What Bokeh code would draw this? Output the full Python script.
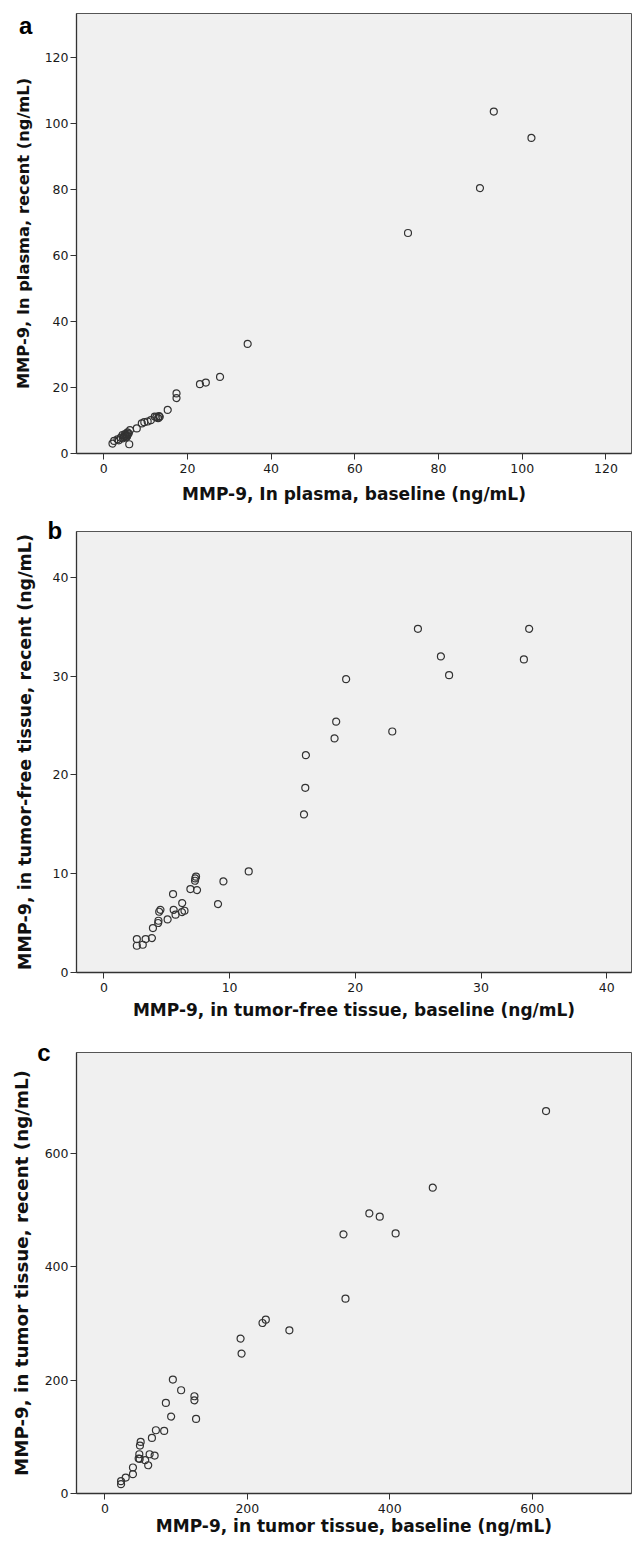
from bokeh.plotting import figure
from bokeh.layouts import column
from bokeh.models import Range1d, FixedTicker, Title
from bokeh.embed import file_html
from bokeh.resources import INLINE

# ---------------- data ----------------
# Panel a: MMP-9 in plasma (ng/mL)
a_baseline = [93.2, 102.2, 89.9, 72.7, 34.4, 27.8, 24.4, 23.0, 17.4, 17.4,
              15.3, 13.4, 13.0, 12.2, 11.3, 10.5, 9.7, 9.1, 7.9, 6.3,
              5.7, 5.1, 4.5, 4.1, 3.3, 2.5, 2.1, 6.1,
              4.8, 5.2, 5.5, 5.0, 5.4, 5.8, 4.6, 5.6, 6.0, 3.6, 12.6, 13.2]
a_recent = [103.6, 95.6, 80.4, 66.8, 33.2, 23.2, 21.5, 21.0, 18.2, 16.8,
            13.2, 11.1, 10.7, 11.2, 10.1, 9.7, 9.5, 9.1, 7.6, 7.1,
            6.4, 5.9, 5.6, 4.8, 4.3, 3.8, 3.0, 2.8,
            5.0, 5.3, 5.6, 5.4, 4.9, 5.9, 4.6, 5.2, 6.1, 4.0, 11.0, 11.3]

# Panel b: MMP-9 in tumor-free tissue (ng/mL)
b_baseline = [24.98, 33.83, 26.81, 33.41, 27.46, 19.27, 18.48, 18.35, 22.94, 16.07,
              16.02, 15.92, 11.52, 9.51, 9.08, 7.33, 7.27, 7.25, 6.88, 7.41,
              5.50, 6.23, 6.41, 6.21, 5.55, 5.70, 5.07, 4.50, 4.40, 4.34,
              4.32, 3.90, 3.82, 3.32, 2.62, 2.62, 3.09]
b_recent = [34.8, 34.8, 32.0, 31.7, 30.1, 29.7, 25.4, 23.7, 24.4, 22.0,
            18.7, 16.0, 10.23, 9.22, 6.93, 9.70, 9.52, 9.29, 8.45, 8.35,
            7.94, 7.03, 6.25, 6.12, 6.35, 5.85, 5.37, 6.35, 6.15, 5.24,
            5.01, 4.50, 3.49, 3.38, 3.38, 2.71, 2.81]

# Panel c: MMP-9 in tumor tissue (ng/mL)
c_baseline = [619.4, 460.4, 371.3, 385.9, 408.2, 335.0, 337.8, 259.0, 225.9, 221.3,
              190.5, 191.9, 95.4, 107.0, 125.7, 125.7, 85.6, 93.0, 128.0, 71.6,
              83.2, 66.0, 50.2, 49.2, 48.3, 62.8, 69.8, 47.4, 56.6, 48.8,
              60.8, 39.4, 39.4, 29.2, 22.7, 22.7]
c_recent = [675.2, 540.0, 494.6, 488.8, 459.3, 457.6, 344.1, 288.2, 307.0, 301.1,
            273.5, 247.0, 201.2, 182.3, 171.7, 164.6, 159.9, 135.9, 131.6, 111.7,
            110.5, 98.1, 91.1, 84.7, 69.3, 69.3, 67.0, 61.8, 58.8, 61.1,
            49.9, 45.9, 34.1, 28.2, 21.7, 16.4]

a_ticks = [0, 20, 40, 60, 80, 100, 120]
b_ticks = [0, 10, 20, 30, 40]
c_ticks = [0, 200, 400, 600]

a_xlabel = "MMP-9, In plasma, baseline (ng/mL)"
a_ylabel = "MMP-9, In plasma, recent (ng/mL)"
b_xlabel = "MMP-9, in tumor-free tissue, baseline (ng/mL)"
b_ylabel = "MMP-9, in tumor-free tissue, recent (ng/mL)"
c_xlabel = "MMP-9, in tumor tissue, baseline (ng/mL)"
c_ylabel = "MMP-9, in tumor tissue, recent (ng/mL)"

AX_FONT = "DejaVu Sans"


def panel(xs, ys, ticks, xr, yr, xlabel, ylabel, letter, letter_off, letter_standoff,
          height, b_left, b_top, b_bottom, xlab_standoff, ylab_standoff, ylab_size):
    p = figure(width=633, height=height, output_backend="svg",
               toolbar_location=None, x_range=Range1d(*xr), y_range=Range1d(*yr),
               min_border_left=b_left, min_border_right=2,
               min_border_top=b_top, min_border_bottom=b_bottom)
    p.background_fill_color = "#f0f0f0"
    p.border_fill_color = "white"
    p.outline_line_color = "#555555"
    p.outline_line_width = 1
    p.grid.visible = False
    for ax in (p.xaxis[0], p.yaxis[0]):
        ax.ticker = FixedTicker(ticks=ticks)
        ax.minor_tick_line_color = None
        ax.major_tick_in = 0
        ax.major_tick_out = 6
        ax.major_tick_line_color = "#333333"
        ax.axis_line_color = "#333333"
        ax.axis_line_width = 1.3
        ax.major_label_text_font = AX_FONT
        ax.major_label_text_font_size = "12.5px"
        ax.major_label_text_color = "#1a1a1a"
        ax.axis_label_text_font = AX_FONT
        ax.axis_label_text_font_style = "bold"
        ax.axis_label_text_color = "#111111"
    p.xaxis.axis_label_text_font_size = "17px"
    p.yaxis.axis_label_text_font_size = ylab_size
    p.xaxis.major_label_standoff = 4
    p.yaxis.major_label_standoff = 2
    p.xaxis.axis_label = xlabel
    p.yaxis.axis_label = ylabel
    p.xaxis.axis_label_standoff = xlab_standoff
    p.yaxis.axis_label_standoff = ylab_standoff
    p.scatter(xs, ys, marker="circle", size=7, fill_color=None,
              line_color="#333333", line_width=1.2)
    p.add_layout(Title(text=letter, align="left", vertical_align="bottom",
                       offset=letter_off, standoff=letter_standoff,
                       text_font="Liberation Sans", text_font_style="bold",
                       text_font_size="24px", text_color="black"), "above")
    return p


pa = panel(a_baseline, a_recent, a_ticks, (-6.5, 126.1), (0, 133.3),
           a_xlabel, a_ylabel, "a", -57.6, -50.6,
           height=512, b_left=76, b_top=13, b_bottom=59,
           xlab_standoff=8, ylab_standoff=9, ylab_size="16.3px")
pb = panel(b_baseline, b_recent, b_ticks, (-2.18, 41.97), (0, 44.65),
           b_xlabel, b_ylabel, "b", -29.0, -24,
           height=518, b_left=69, b_top=19, b_bottom=58,
           xlab_standoff=5, ylab_standoff=15, ylab_size="17.5px")
pc = panel(c_baseline, c_recent, c_ticks, (-39.9, 739.4), (0, 778.7),
           c_xlabel, c_ylabel, "c", -39.3, -26,
           height=513, b_left=74, b_top=22, b_bottom=50,
           xlab_standoff=0, ylab_standoff=10, ylab_size="18.3px")

layout = column(pa, pb, pc, spacing=0)
open("out.html", "w").write(file_html(layout, INLINE))
